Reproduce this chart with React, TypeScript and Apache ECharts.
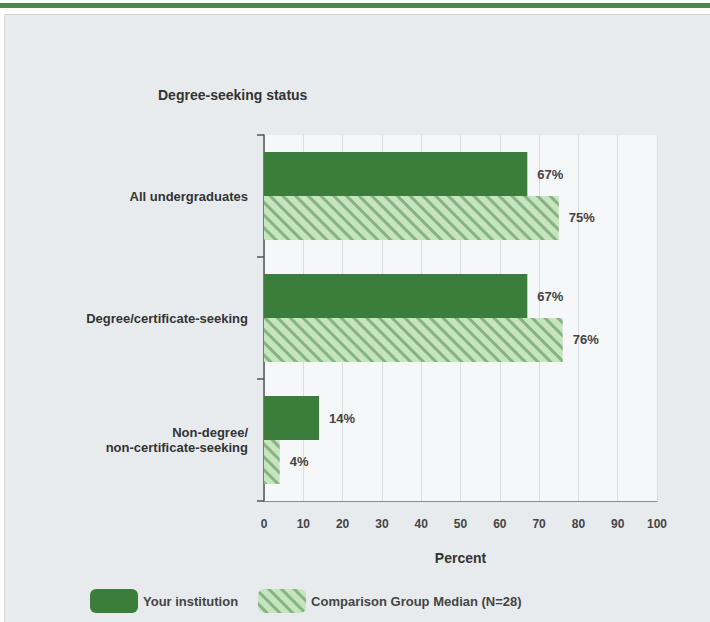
import React, { useEffect, useRef } from "react";
import * as echarts from "echarts";

const categories = ["All undergraduates", "Degree/certificate-seeking", "Non-degree/\nnon-certificate-seeking"];
const institution = [67, 67, 14];
const comparison = [75, 76, 4];
const seriesNames = ["Your institution", "Comparison Group Median (N=28)"];
const xTicks = [0, 10, 20, 30, 40, 50, 60, 70, 80, 90, 100];

const FONT = "Liberation Sans, Arial, sans-serif";

export default function App() {
  const ref = useRef<HTMLDivElement>(null);
  useEffect(() => {
    if (!ref.current) return;
    const chart = echarts.init(ref.current, null, { renderer: "svg" });
    chart.setOption({
      animation: false,
      backgroundColor: "#ffffff",
      textStyle: { fontFamily: FONT },
      graphic: [
        { type: "rect", shape: { x: 0, y: 3, width: 710, height: 5 }, style: { fill: "#4c8a4a" }, z: -10 },
        { type: "rect", shape: { x: 4.5, y: 14.5, width: 710, height: 620 }, style: { fill: "#e8ebee", stroke: "#d2d4d6", lineWidth: 1 }, z: -10 },
        { type: "text", left: 158, top: 88, style: { text: "Degree-seeking status", font: `bold 14px ${FONT}`, fill: "#333" } },
      ],
      legend: {
        left: 85,
        top: 584,
        itemWidth: 48,
        itemHeight: 24,
        itemGap: 20,
        textStyle: { fontSize: 13, fontWeight: "bold", color: "#444", fontFamily: FONT },
        data: seriesNames,
      },
      grid: {
        left: 264,
        top: 135,
        width: 393,
        height: 366,
        show: true,
        backgroundColor: "#f6f7f8",
        borderWidth: 0,
      },
      xAxis: {
        type: "value",
        min: 0,
        max: 100,
        interval: 10,
        name: "Percent",
        nameLocation: "middle",
        nameGap: 50,
        nameTextStyle: { fontSize: 14, fontWeight: "bold", color: "#333" },
        axisLine: { show: true, lineStyle: { color: "#888", width: 1 } },
        axisTick: { show: false },
        axisLabel: {
          fontSize: 12,
          fontWeight: "bold",
          color: "#444",
          margin: 17,
          formatter: (v: number) => (xTicks.includes(v) ? String(v) : ""),
        },
        splitLine: { show: true, lineStyle: { color: "#dcdcdc", width: 1 } },
      },
      yAxis: {
        type: "category",
        data: categories,
        inverse: true,
        axisLine: { show: true, lineStyle: { color: "#555", width: 1.5 } },
        axisTick: { show: true, length: 7, lineStyle: { color: "#555", width: 1.5 } },
        axisLabel: {
          fontSize: 13,
          fontWeight: "bold",
          color: "#333",
          margin: 16,
          lineHeight: 15,
          align: "right",
        },
      },
      series: [
        {
          name: seriesNames[0],
          type: "bar",
          data: institution,
          barGap: "0%",
          barCategoryGap: "28%",
          itemStyle: { color: "#3b7d3b" },
          label: {
            show: true,
            position: "right",
            distance: 10,
            formatter: "{c}%",
            fontSize: 13,
            fontWeight: "bold",
            color: "#444",
          },
        },
        {
          name: seriesNames[1],
          type: "bar",
          data: comparison,
          itemStyle: {
            color: "#c6e5bf",
            decal: {
              symbol: "rect",
              symbolSize: 1,
              dashArrayX: [1, 0],
              dashArrayY: [3, 6],
              rotation: Math.PI / 4,
              color: "rgba(70,130,70,0.5)",
            },
          },
          label: {
            show: true,
            position: "right",
            distance: 10,
            formatter: "{c}%",
            fontSize: 13,
            fontWeight: "bold",
            color: "#444",
          },
        },
      ],
    });
    return () => chart.dispose();
  }, []);
  return (
    <div style={{ position: "fixed", left: 0, top: 0, width: 710, height: 622 }}>
      <div ref={ref} style={{ width: 710, height: 622 }} />
    </div>
  );
}
